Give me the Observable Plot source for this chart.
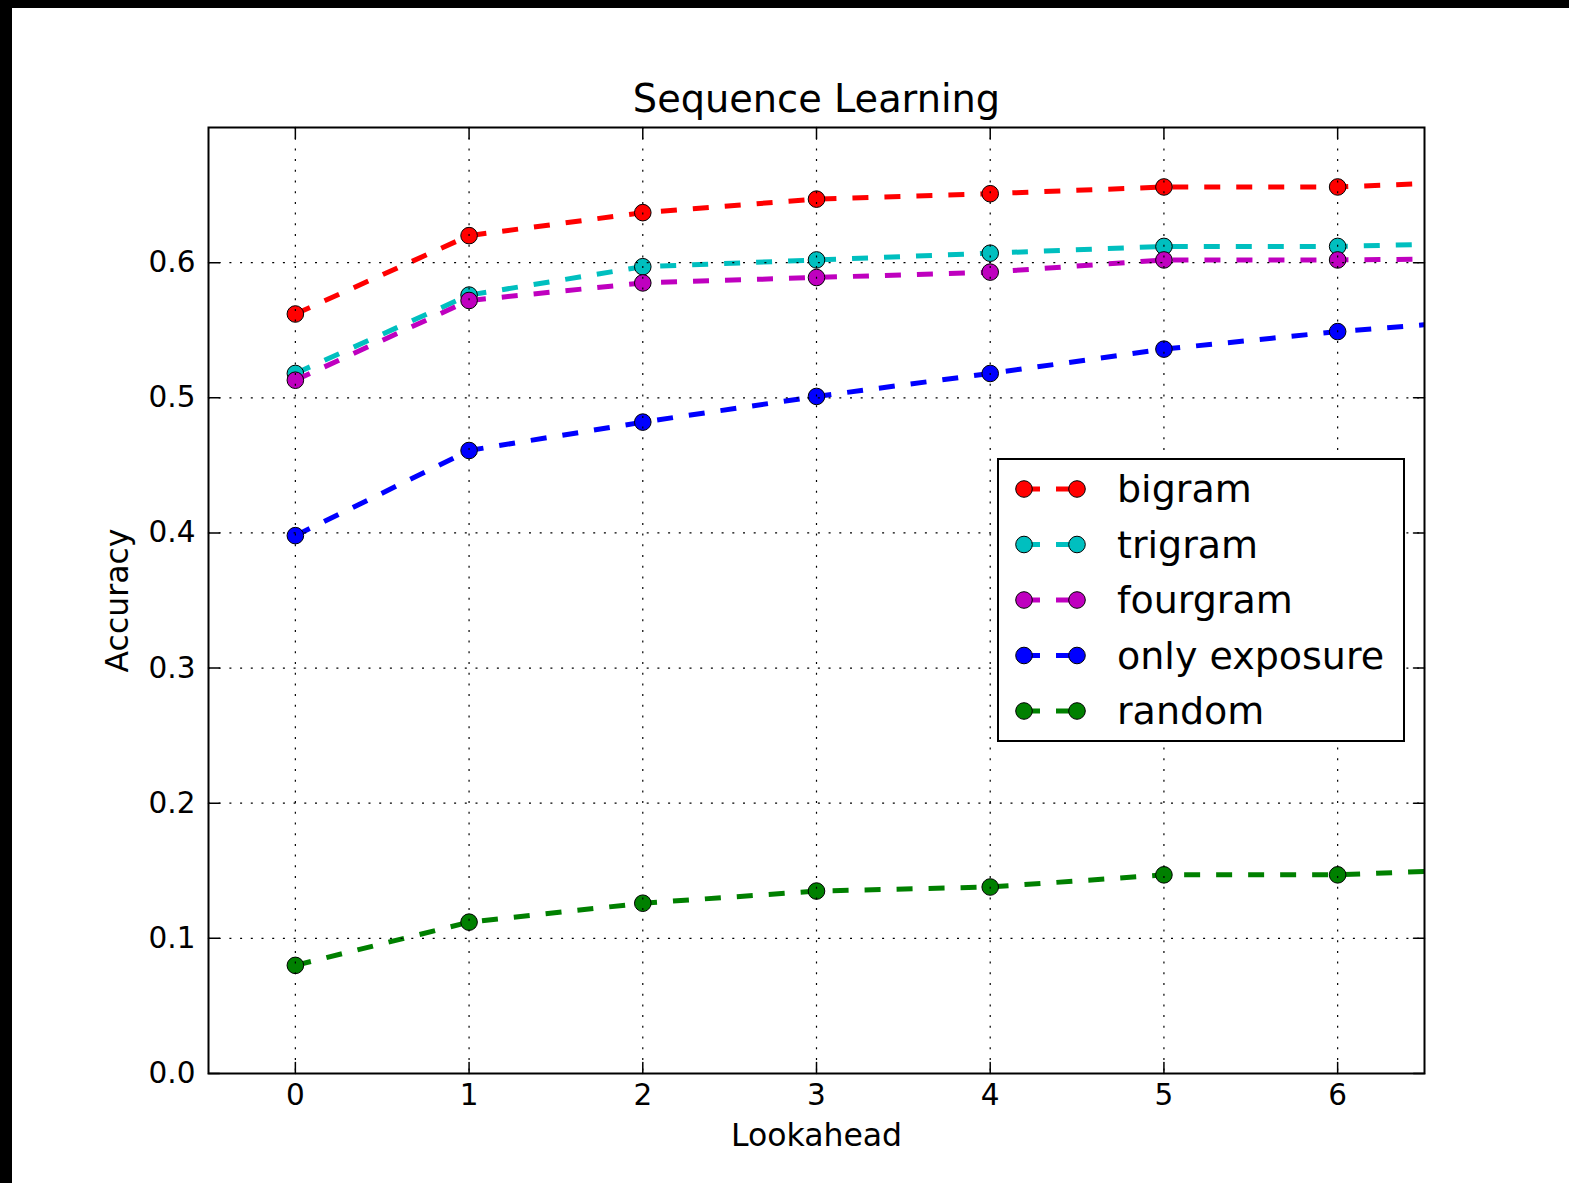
<!DOCTYPE html>
<html>
<head>
<meta charset="utf-8">
<script src="https://cdn.jsdelivr.net/npm/d3@7"></script>
<script src="https://cdn.jsdelivr.net/npm/@observablehq/plot@0.6"></script>
<style>
  html, body { margin: 0; padding: 0; background: #000; }
  #wrap { position: absolute; left: 12px; top: 8px; width: 1557px; height: 1175px; background: #fff; overflow: hidden; }
  #legend { position: absolute; left: 985px; top: 450px; width: 408px; height: 284px; box-sizing: border-box; border: 2px solid #000; background: #fff; }
</style>
</head>
<body>
<div id="wrap"><div id="chart"></div><div id="legend"></div></div>
<script>
// ---- data ----
const lookahead = [0, 1, 2, 3, 4, 5, 6, 7];
const bigram       = [0.562, 0.620, 0.637, 0.647, 0.651, 0.656, 0.656, 0.661];
const trigram      = [0.518, 0.576, 0.597, 0.602, 0.607, 0.612, 0.612, 0.615];
const fourgram     = [0.513, 0.572, 0.585, 0.589, 0.593, 0.602, 0.602, 0.603];
const onlyExposure = [0.398, 0.461, 0.482, 0.501, 0.518, 0.536, 0.549, 0.559];
const random       = [0.080, 0.112, 0.126, 0.135, 0.138, 0.147, 0.147, 0.152];
const seriesNames  = ["bigram", "trigram", "fourgram", "only exposure", "random"];
const seriesValues = [bigram, trigram, fourgram, onlyExposure, random];
const seriesColors = ["#ff0000", "#00bfbf", "#bf00bf", "#0000ff", "#008000"];
const xTicks = [0, 1, 2, 3, 4, 5, 6];
const yTicks = [0.0, 0.1, 0.2, 0.3, 0.4, 0.5, 0.6];
const titleText = "Sequence Learning";
const xLabel = "Lookahead";
const yLabel = "Accuracy";

const rows = seriesNames.flatMap((name, i) =>
  lookahead.map((x, j) => ({series: name, x, y: seriesValues[i][j]})));

const tickShape = {draw(ctx, l) { ctx.moveTo(0, 0); ctx.lineTo(0, -l); }};
const tickOpts = {length: 11, anchor: "start", shape: tickShape, stroke: "#000", strokeWidth: 1.5};

const seriesMarks = seriesNames.flatMap(name => {
  const d = rows.filter(r => r.series === name);
  return [
    Plot.line(d, {x: "x", y: "y", stroke: "series", strokeWidth: 5, strokeDasharray: "16,16",
                  strokeLinecap: "butt", strokeLinejoin: "round", clip: true}),
    Plot.dot(d, {x: "x", y: "y", fill: "series", stroke: "#000", strokeWidth: 1, r: 8.3, clip: true})
  ];
});

const chart = Plot.plot({
  width: 1557,
  height: 1175,
  marginLeft: 196,
  marginRight: 145,
  marginTop: 119,
  marginBottom: 110,
  style: {fontFamily: "DejaVu Sans", fontSize: "29px", background: "#fff", color: "#000"},
  x: {domain: [-0.5, 6.5]},
  y: {domain: [0, 0.7]},
  color: {domain: seriesNames, range: seriesColors},
  marks: [
    ...seriesMarks,
    Plot.gridX(xTicks, {stroke: "#000", strokeOpacity: 1, strokeWidth: 1.2, strokeDasharray: "2,8.7"}),
    Plot.gridY(yTicks, {stroke: "#000", strokeOpacity: 1, strokeWidth: 1.2, strokeDasharray: "2,8.7"}),
    Plot.vector(xTicks, {x: d => d, frameAnchor: "bottom", rotate: 0, ...tickOpts}),
    Plot.vector(xTicks, {x: d => d, frameAnchor: "top", rotate: 180, ...tickOpts}),
    Plot.vector(yTicks, {y: d => d, frameAnchor: "left", rotate: 90, ...tickOpts}),
    Plot.vector(yTicks, {y: d => d, frameAnchor: "right", rotate: -90, ...tickOpts}),
    Plot.frame({stroke: "#000", strokeWidth: 2}),
    Plot.axisX(xTicks, {tickSize: 0, tickPadding: 11, label: null, fontSize: 29.5, tickFormat: d => String(d)}),
    Plot.axisY(yTicks, {tickSize: 0, tickPadding: 13, label: null, fontSize: 29.5, tickFormat: d3.format(".1f")}),
    Plot.text([titleText], {frameAnchor: "top", dy: -28, fontSize: 38.3, lineAnchor: "middle", textAnchor: "middle", fill: "#000"}),
    Plot.text([xLabel], {frameAnchor: "bottom", dy: 62, fontSize: 31.5, lineAnchor: "middle", textAnchor: "middle", fill: "#000"}),
    Plot.text([yLabel], {frameAnchor: "left", dx: -91, rotate: -90, fontSize: 31.5, lineAnchor: "middle", textAnchor: "middle", fill: "#000"})
  ]
});
document.getElementById("chart").appendChild(chart);

// ---- legend ----
const lg = d3.select("#legend").append("svg")
  .attr("width", 404).attr("height", 280)
  .style("position", "absolute").style("left", "0px").style("top", "0px");
seriesNames.forEach((name, i) => {
  const cy = 29 + i * 55.5;
  const g = lg.append("g");
  g.append("line").attr("x1", 25).attr("x2", 78).attr("y1", cy).attr("y2", cy)
    .attr("stroke", seriesColors[i]).attr("stroke-width", 5).attr("stroke-dasharray", "16,16");
  [25, 78].forEach(cx => g.append("circle").attr("cx", cx).attr("cy", cy).attr("r", 8.3)
    .attr("fill", seriesColors[i]).attr("stroke", "#000").attr("stroke-width", 1));
  g.append("text").attr("x", 118).attr("y", cy + 13).text(name)
    .attr("font-family", "DejaVu Sans").attr("font-size", 38).attr("fill", "#000");
});
</script>
</body>
</html>
